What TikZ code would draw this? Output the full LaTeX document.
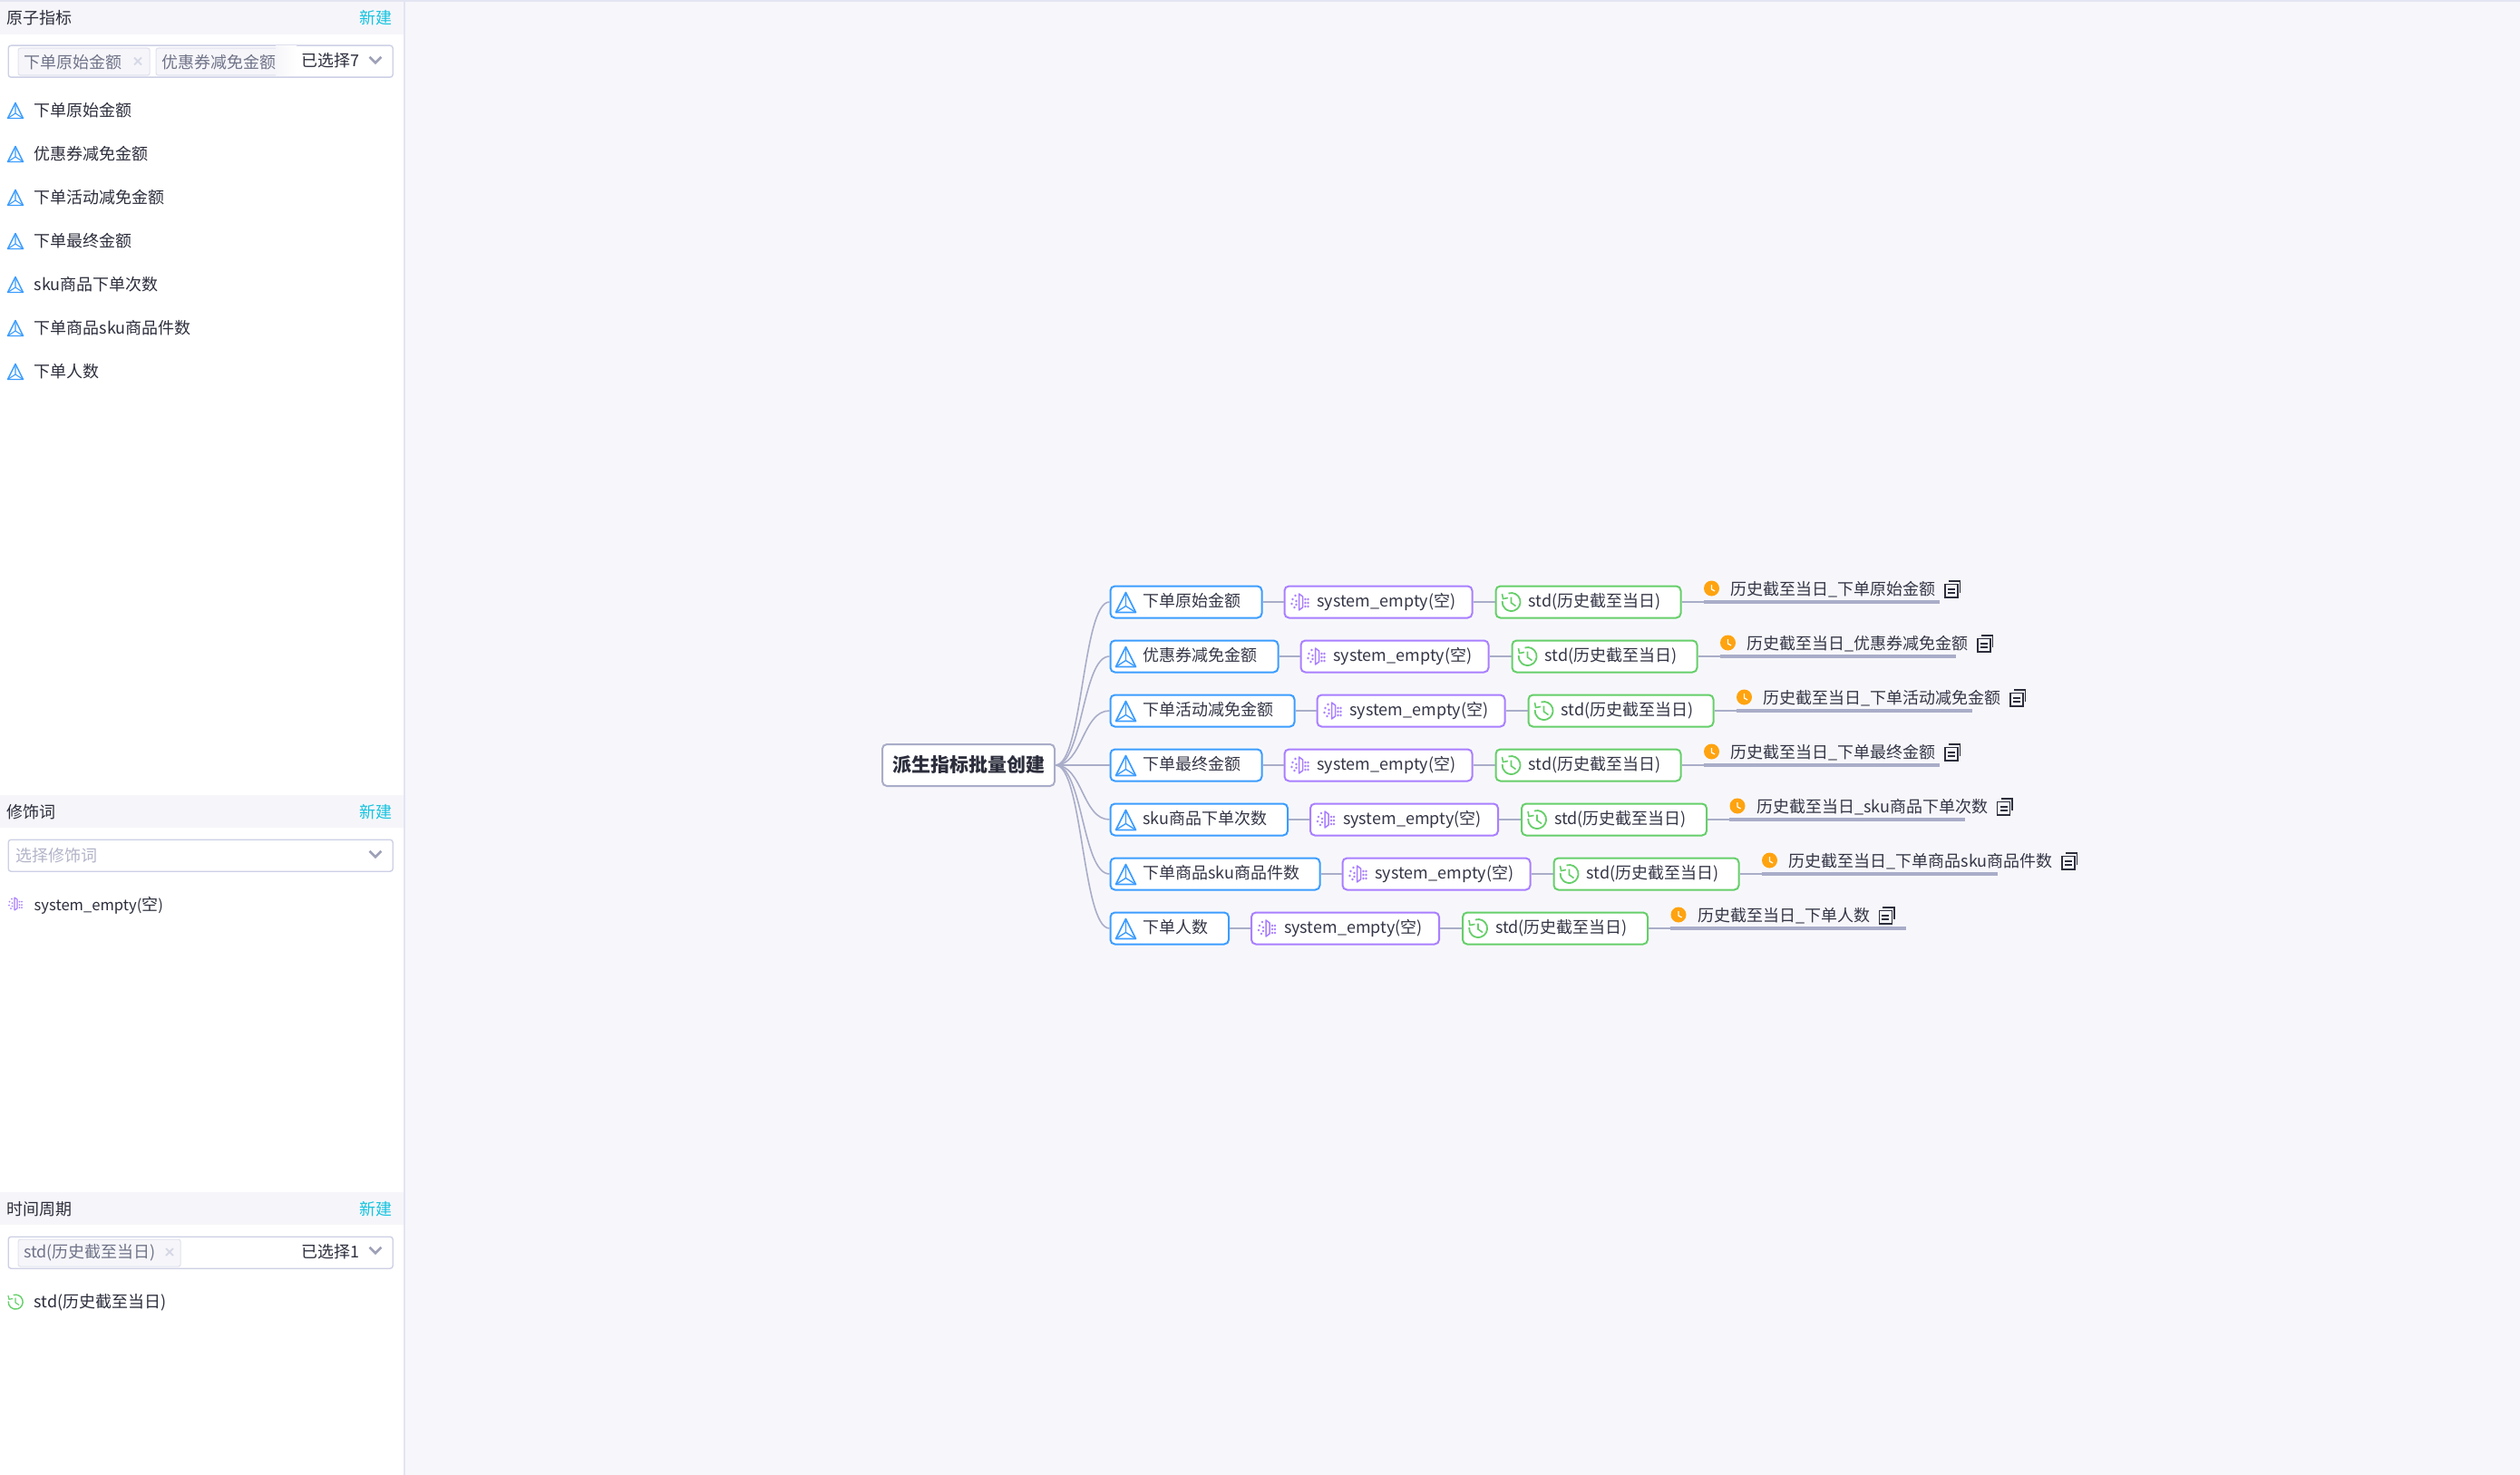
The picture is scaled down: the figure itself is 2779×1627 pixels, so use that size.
\documentclass[tikz,border=0pt]{standalone}
\usepackage{fontspec}
\setmainfont{Noto Sans CJK SC}
\usetikzlibrary{positioning}
\definecolor{pagebg}{HTML}{F7F7FB}
\definecolor{rulegray}{HTML}{E4E5F1}
\definecolor{linkgray}{HTML}{A9ADC8}
\definecolor{metricblue}{HTML}{3C9DFF}
\definecolor{modpurple}{HTML}{A97FFF}
\definecolor{periodgreen}{HTML}{66CF6A}
\definecolor{clockorange}{HTML}{FFA30F}
\definecolor{inkdark}{HTML}{2C2E3C}
\definecolor{inkmap}{HTML}{343646}
\definecolor{inktag}{HTML}{6F7388}
\definecolor{inkhint}{HTML}{B2B4C8}
\definecolor{newcyan}{HTML}{17C3DF}
\definecolor{selectline}{HTML}{CDD0E5}
\definecolor{tagline}{HTML}{E2E3EF}
\definecolor{tagfill}{HTML}{F6F6FA}
\definecolor{chevrongray}{HTML}{9EA1B7}
\definecolor{closegray}{HTML}{D6D8E6}
\newcommand{\panelfont}{\fontsize{18}{22}\selectfont}
\newcommand{\mapfont}{\fontsize{18}{22}\selectfont}
\begin{document}
\begin{tikzpicture}[
    x=1pt, y=-1pt,
    band/.style={rectangle, fill=tagfill, inner sep=0pt, minimum width=445pt, minimum height=36pt, anchor=north west},
    heading/.style={inner sep=0pt, anchor=west, text=inkdark, font=\panelfont},
    newlink/.style={inner sep=0pt, anchor=east, text=newcyan, font=\panelfont},
    select/.style={rectangle, draw=selectline, line width=1.4pt, fill=white, rounded corners=3pt, inner sep=0pt, minimum width=424pt, minimum height=35pt, anchor=north west},
    tag/.style={rectangle, draw=tagline, line width=1.2pt, fill=tagfill, rounded corners=2.5pt, inner sep=0pt, minimum height=30pt, anchor=north west},
    tagtext/.style={inner sep=0pt, anchor=west, text=inktag, font=\panelfont},
    item/.style={inner sep=0pt, anchor=west, text=inkdark, font=\panelfont},
    box/.style={rectangle, fill=white, line width=2pt, rounded corners=5pt, inner xsep=0pt, inner ysep=0pt, minimum height=35pt, anchor=west, align=left, text=inkmap, font=\mapfont, text height=15.6pt, text depth=4pt, execute at begin node=\hspace*{36pt}},
    metric/.style={box, draw=metricblue, text width=#1},
    modifier/.style={box, draw=modpurple, text width=207pt},
    period/.style={box, draw=periodgreen, text width=204pt},
    root/.style={rectangle, draw=linkgray, line width=2pt, fill=white, rounded corners=5pt, minimum width=190pt, minimum height=46pt, inner sep=0pt, text=inkdark, font=\fontsize{21}{24}\selectfont\bfseries},
    result/.style={inner sep=0pt, anchor=west, text=inkmap, font=\mapfont},
    link/.style={draw=linkgray, line width=1.6pt},
    resultline/.style={draw=linkgray, line width=3.2pt},
    atomicon/.pic={
        \draw[metricblue, line width=1.7pt, line join=round] (0,-11) -- (11,11) -- (-11,11) -- cycle;
        \draw[metricblue, line width=1.4pt] (0,-11) -- (0,4) (0,4) -- (11,11) (0,4) -- (-11,11);
    },
    smallatomicon/.pic={
        \draw[metricblue, line width=1.4pt, line join=round] (0,-8.5) -- (8.5,8.5) -- (-8.5,8.5) -- cycle;
        \draw[metricblue, line width=1.1pt] (0,-8.5) -- (0,3) (0,3) -- (8.5,8.5) (0,3) -- (-8.5,8.5);
    },
    modicon/.pic={
        \draw[modpurple, line width=1.5pt, line join=round] (-1,-9) -- (-1,9) -- (3,6) -- (3,-6) -- cycle;
        \foreach \dotpos in {(-5,-7),(-8,-3),(-9,2),(-6,6),(-4,-1),(-4,3),(6,-3),(6,1),(6,5),(9,-3),(9,1),(9,5)}
            \fill[modpurple] \dotpos circle (1.3);
    },
    smallmodicon/.pic={
        \draw[modpurple, line width=1.1pt, line join=round] (-1,-7) -- (-1,7) -- (2,5) -- (2,-5) -- cycle;
        \foreach \dotpos in {(-4,-5.5),(-6.5,-2.5),(-7,1.5),(-5,5),(-3.5,-1),(-3.5,2.5),(4.5,-2.5),(4.5,1),(4.5,4),(7,-2.5),(7,1),(7,4)}
            \fill[modpurple] \dotpos circle (1);
    },
    clockicon/.pic={
        \draw[periodgreen, line width=1.8pt] (-3,-9.5) arc[start angle=252, end angle=545, radius=10];
        \draw[periodgreen, line width=1.6pt] (-10,-9) -- (-9,-3.5) -- (-3.5,-4.5);
        \draw[periodgreen, line width=1.6pt] (0,-5.5) -- (0,1) -- (5,4.5);
    },
    smallclockicon/.pic={
        \draw[periodgreen, line width=1.4pt] (-2.3,-7.5) arc[start angle=252, end angle=545, radius=8];
        \draw[periodgreen, line width=1.2pt] (-8,-7) -- (-7,-2.8) -- (-2.8,-3.5);
        \draw[periodgreen, line width=1.2pt] (0,-4.5) -- (0,.8) -- (4,3.5);
    },
    orangeicon/.pic={
        \fill[clockorange] (0,0) circle (8.5);
        \draw[white, line width=1.3pt] (0,-4) -- (0,1) -- (3.5,3);
    },
    copyicon/.pic={
        \draw[inkdark, line width=1.6pt] (-8,-5.5) rectangle (6,9);
        \draw[inkdark, line width=1.4pt] (-5,0) -- (3,0) (-5,4) -- (3,4);
        \draw[inkdark, line width=1.3pt] (-4,-9) -- (8.5,-9) -- (8.5,4);
    },
    chevron/.pic={
        \draw[chevrongray, line width=2.6pt] (-6.5,-3.2) -- (0,3.2) -- (6.5,-3.2);
    },
    closemark/.pic={
        \draw[closegray, line width=2pt] (-4,-4) -- (4,4) (-4,4) -- (4,-4);
    }
]
    \useasboundingbox (0,0) rectangle (2779,1627);
    \fill[pagebg] (0,0) rectangle (2779,1627);
    \fill[white] (0,0) rectangle (445,1627);
    \fill[rulegray] (445,0) rectangle (447,1627);
    \fill[rulegray] (0,0) rectangle (2779,2);

    % Atomic metrics panel
    \node[band] (atomband) at (0,2) {};
    \node[heading] (atomhead) at (7,20) {原子指标};
    \node[newlink] (atomnew) at (433,20) {新建};
    \node[select] (atomselect) at (8.5,49.5) {};
    \node[tag, minimum width=145pt] (atomtag1) at (19.5,52.5) {};
    \node[tag, minimum width=154pt] (atomtag2) at (171.5,52.5) {};
    \node[tagtext] (atomtagtext1) at (26,68.5) {下单原始金额};
    \node[tagtext] (atomtagtext2) at (178,68.5) {优惠券减免金额};
    \shade[left color=tagfill, right color=white] (304,51) rectangle (327,84);
    \pic at (152,67.5) {closemark};
    \node[item] (atomcount) at (332,67) {已选择7};
    \pic at (414,66) {chevron};
    \node[item] (atom1) at (37.5,122) {下单原始金额};
    \node[item] (atom2) at (37.5,170) {优惠券减免金额};
    \node[item] (atom3) at (37.5,218) {下单活动减免金额};
    \node[item] (atom4) at (37.5,266) {下单最终金额};
    \node[item] (atom5) at (37.5,314) {sku商品下单次数};
    \node[item] (atom6) at (37.5,362) {下单商品sku商品件数};
    \node[item] (atom7) at (37.5,410) {下单人数};
    \pic at (17,122) {smallatomicon};
    \pic at (17,170) {smallatomicon};
    \pic at (17,218) {smallatomicon};
    \pic at (17,266) {smallatomicon};
    \pic at (17,314) {smallatomicon};
    \pic at (17,362) {smallatomicon};
    \pic at (17,410) {smallatomicon};

    % Modifier panel
    \node[band] (modband) at (0,877) {};
    \node[heading] (modhead) at (7,896) {修饰词};
    \node[newlink] (modnew) at (433,896) {新建};
    \node[select] (modselect) at (8.5,925.5) {};
    \node[tagtext, text=inkhint] (modhint) at (17,944) {选择修饰词};
    \pic at (414,942) {chevron};
    \node[item] (moditem) at (37.5,998.5) {{\fontsize{16.6}{22}\selectfont system\_empty(}空{\fontsize{16.6}{22}\selectfont )}};
    \pic at (17,997) {smallmodicon};

    % Period panel
    \node[band] (periodband) at (0,1315) {};
    \node[heading] (periodhead) at (7,1334) {时间周期};
    \node[newlink] (periodnew) at (433,1334) {新建};
    \node[select] (periodselect) at (8.5,1363.5) {};
    \node[tag, minimum width=179pt] (periodtag) at (19.5,1366.5) {};
    \node[tagtext] (periodtagtext) at (26,1382) {std(历史截至当日)};
    \pic at (187,1381) {closemark};
    \node[item] (periodcount) at (332,1381) {已选择1};
    \pic at (414,1379) {chevron};
    \node[item] (perioditem) at (37.5,1437) {std(历史截至当日)};
    \pic at (17,1436) {smallclockicon};

    % Root node
    \node[root] (batch) at (1068,844) {派生指标批量创建};

    % First column
    \node[metric=167pt] (metric1) at (1223.5,664) {下单原始金额};
    \node[metric=185pt] (metric2) at (1223.5,724) {优惠券减免金额};
    \node[metric=203pt] (metric3) at (1223.5,784) {下单活动减免金额};
    \node[metric=167pt] (metric4) at (1223.5,844) {下单最终金额};
    \node[metric=195.5pt] (metric5) at (1223.5,904) {sku商品下单次数};
    \node[metric=231pt] (metric6) at (1223.5,964) {下单商品sku商品件数};
    \node[metric=130.5pt] (metric7) at (1223.5,1024) {下单人数};

    % Modifier column
    \node[modifier, right=23pt of metric1] (modifier1) {system\_empty(空)};
    \node[modifier, right=23pt of metric2] (modifier2) {system\_empty(空)};
    \node[modifier, right=23pt of metric3] (modifier3) {system\_empty(空)};
    \node[modifier, right=23pt of metric4] (modifier4) {system\_empty(空)};
    \node[modifier, right=23pt of metric5] (modifier5) {system\_empty(空)};
    \node[modifier, right=23pt of metric6] (modifier6) {system\_empty(空)};
    \node[modifier, right=23pt of metric7] (modifier7) {system\_empty(空)};

    % Period column
    \node[period, right=24pt of modifier1] (period1) {std(历史截至当日)};
    \node[period, right=24pt of modifier2] (period2) {std(历史截至当日)};
    \node[period, right=24pt of modifier3] (period3) {std(历史截至当日)};
    \node[period, right=24pt of modifier4] (period4) {std(历史截至当日)};
    \node[period, right=24pt of modifier5] (period5) {std(历史截至当日)};
    \node[period, right=24pt of modifier6] (period6) {std(历史截至当日)};
    \node[period, right=24pt of modifier7] (period7) {std(历史截至当日)};

    % Underline ends
    \coordinate[right=24pt of period1] (linestart1);
    \coordinate[right=24pt of period2] (linestart2);
    \coordinate[right=24pt of period3] (linestart3);
    \coordinate[right=24pt of period4] (linestart4);
    \coordinate[right=24pt of period5] (linestart5);
    \coordinate[right=24pt of period6] (linestart6);
    \coordinate[right=24pt of period7] (linestart7);
    \coordinate[right=260pt of linestart1] (lineend1);
    \coordinate[right=260pt of linestart2] (lineend2);
    \coordinate[right=260pt of linestart3] (lineend3);
    \coordinate[right=260pt of linestart4] (lineend4);
    \coordinate[right=260pt of linestart5] (lineend5);
    \coordinate[right=260pt of linestart6] (lineend6);
    \coordinate[right=260pt of linestart7] (lineend7);

    % Result names
    \node[result] (result1) at ([xshift=30pt, yshift=14pt]linestart1) {历史截至当日\_下单原始金额};
    \node[result] (result2) at ([xshift=30pt, yshift=14pt]linestart2) {历史截至当日\_优惠券减免金额};
    \node[result] (result3) at ([xshift=30pt, yshift=14pt]linestart3) {历史截至当日\_下单活动减免金额};
    \node[result] (result4) at ([xshift=30pt, yshift=14pt]linestart4) {历史截至当日\_下单最终金额};
    \node[result] (result5) at ([xshift=30pt, yshift=14pt]linestart5) {历史截至当日\_sku商品下单次数};
    \node[result] (result6) at ([xshift=30pt, yshift=14pt]linestart6) {历史截至当日\_下单商品sku商品件数};
    \node[result] (result7) at ([xshift=30pt, yshift=14pt]linestart7) {历史截至当日\_下单人数};

    % Connections
    \draw[link] (batch.east) .. controls +(30,0) and +(-30,0) .. (metric1.west);
    \draw[link] (batch.east) .. controls +(30,0) and +(-30,0) .. (metric2.west);
    \draw[link] (batch.east) .. controls +(30,0) and +(-30,0) .. (metric3.west);
    \draw[link] (batch.east) -- (metric4.west);
    \draw[link] (batch.east) .. controls +(30,0) and +(-30,0) .. (metric5.west);
    \draw[link] (batch.east) .. controls +(30,0) and +(-30,0) .. (metric6.west);
    \draw[link] (batch.east) .. controls +(30,0) and +(-30,0) .. (metric7.west);
    \draw[link] (metric1) -- (modifier1);
    \draw[link] (metric2) -- (modifier2);
    \draw[link] (metric3) -- (modifier3);
    \draw[link] (metric4) -- (modifier4);
    \draw[link] (metric5) -- (modifier5);
    \draw[link] (metric6) -- (modifier6);
    \draw[link] (metric7) -- (modifier7);
    \draw[link] (modifier1) -- (period1);
    \draw[link] (modifier2) -- (period2);
    \draw[link] (modifier3) -- (period3);
    \draw[link] (modifier4) -- (period4);
    \draw[link] (modifier5) -- (period5);
    \draw[link] (modifier6) -- (period6);
    \draw[link] (modifier7) -- (period7);
    \draw[link] (period1) -- (linestart1);
    \draw[link] (period2) -- (linestart2);
    \draw[link] (period3) -- (linestart3);
    \draw[link] (period4) -- (linestart4);
    \draw[link] (period5) -- (linestart5);
    \draw[link] (period6) -- (linestart6);
    \draw[link] (period7) -- (linestart7);
    \draw[resultline] (linestart1) -- (lineend1);
    \draw[resultline] (linestart2) -- (lineend2);
    \draw[resultline] (linestart3) -- (lineend3);
    \draw[resultline] (linestart4) -- (lineend4);
    \draw[resultline] (linestart5) -- (lineend5);
    \draw[resultline] (linestart6) -- (lineend6);
    \draw[resultline] (linestart7) -- (lineend7);

    % Icons
    \pic at ([xshift=18pt, yshift=-.5pt]metric1.west) {atomicon};
    \pic at ([xshift=18pt, yshift=-.5pt]metric2.west) {atomicon};
    \pic at ([xshift=18pt, yshift=-.5pt]metric3.west) {atomicon};
    \pic at ([xshift=18pt, yshift=-.5pt]metric4.west) {atomicon};
    \pic at ([xshift=18pt, yshift=-.5pt]metric5.west) {atomicon};
    \pic at ([xshift=18pt, yshift=-.5pt]metric6.west) {atomicon};
    \pic at ([xshift=18pt, yshift=-.5pt]metric7.west) {atomicon};
    \pic at ([xshift=18pt]modifier1.west) {modicon};
    \pic at ([xshift=18pt]modifier2.west) {modicon};
    \pic at ([xshift=18pt]modifier3.west) {modicon};
    \pic at ([xshift=18pt]modifier4.west) {modicon};
    \pic at ([xshift=18pt]modifier5.west) {modicon};
    \pic at ([xshift=18pt]modifier6.west) {modicon};
    \pic at ([xshift=18pt]modifier7.west) {modicon};
    \pic at ([xshift=18pt]period1.west) {clockicon};
    \pic at ([xshift=18pt]period2.west) {clockicon};
    \pic at ([xshift=18pt]period3.west) {clockicon};
    \pic at ([xshift=18pt]period4.west) {clockicon};
    \pic at ([xshift=18pt]period5.west) {clockicon};
    \pic at ([xshift=18pt]period6.west) {clockicon};
    \pic at ([xshift=18pt]period7.west) {clockicon};
    \pic at ([xshift=9pt, yshift=15pt]linestart1) {orangeicon};
    \pic at ([xshift=9pt, yshift=15pt]linestart2) {orangeicon};
    \pic at ([xshift=9pt, yshift=15pt]linestart3) {orangeicon};
    \pic at ([xshift=9pt, yshift=15pt]linestart4) {orangeicon};
    \pic at ([xshift=9pt, yshift=15pt]linestart5) {orangeicon};
    \pic at ([xshift=9pt, yshift=15pt]linestart6) {orangeicon};
    \pic at ([xshift=9pt, yshift=15pt]linestart7) {orangeicon};
    \pic at ([xshift=18pt]result1.east) {copyicon};
    \pic at ([xshift=18pt]result2.east) {copyicon};
    \pic at ([xshift=18pt]result3.east) {copyicon};
    \pic at ([xshift=18pt]result4.east) {copyicon};
    \pic at ([xshift=18pt]result5.east) {copyicon};
    \pic at ([xshift=18pt]result6.east) {copyicon};
    \pic at ([xshift=18pt]result7.east) {copyicon};
\end{tikzpicture}
\end{document}
